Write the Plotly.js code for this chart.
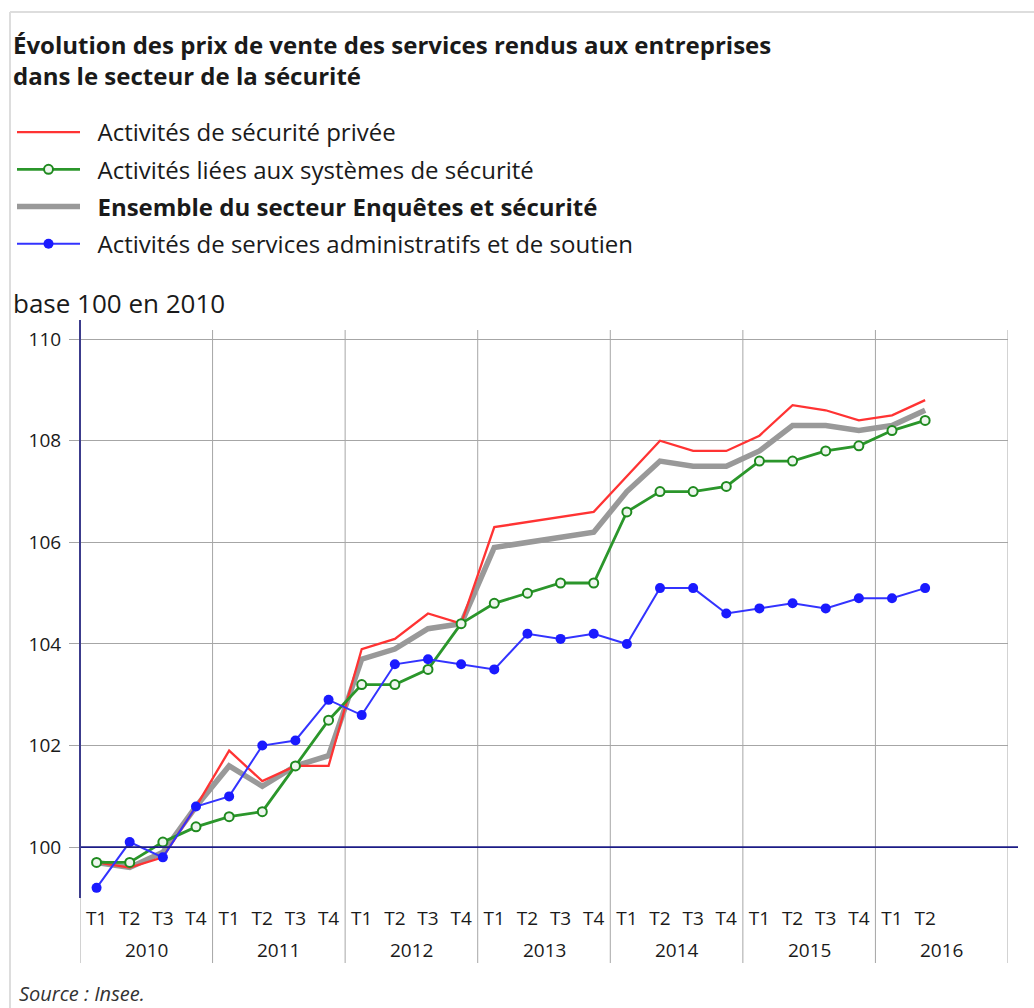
<!DOCTYPE html>
<html>
<head>
<meta charset="utf-8">
<script src="https://cdn.plot.ly/plotly-3.0.1.min.js"></script>
<style>
  html, body { margin: 0; padding: 0; background: #fff; }
  #chart { width: 1034px; height: 1008px; }
</style>
</head>
<body>
<div id="chart"></div>
<script>
// ---- Data ----
const years = ['2010', '2011', '2012', '2013', '2014', '2015', '2016'];
const quarterLabels = ['T1','T2','T3','T4','T1','T2','T3','T4','T1','T2','T3','T4',
  'T1','T2','T3','T4','T1','T2','T3','T4','T1','T2','T3','T4','T1','T2'];

const securitePrivee = [99.7, 99.6, 99.8, 100.8, 101.9, 101.3, 101.6, 101.6, 103.9, 104.1, 104.6, 104.4,
  106.3, 106.4, 106.5, 106.6, 107.3, 108.0, 107.8, 107.8, 108.1, 108.7, 108.6, 108.4, 108.5, 108.8];
const systemesSecurite = [99.7, 99.7, 100.1, 100.4, 100.6, 100.7, 101.6, 102.5, 103.2, 103.2, 103.5, 104.4,
  104.8, 105.0, 105.2, 105.2, 106.6, 107.0, 107.0, 107.1, 107.6, 107.6, 107.8, 107.9, 108.2, 108.4];
const ensembleSecteur = [99.7, 99.6, 99.9, 100.8, 101.6, 101.2, 101.6, 101.8, 103.7, 103.9, 104.3, 104.4,
  105.9, 106.0, 106.1, 106.2, 107.0, 107.6, 107.5, 107.5, 107.8, 108.3, 108.3, 108.2, 108.3, 108.6];
const servicesAdmin = [99.2, 100.1, 99.8, 100.8, 101.0, 102.0, 102.1, 102.9, 102.6, 103.6, 103.7, 103.6,
  103.5, 104.2, 104.1, 104.2, 104.0, 105.1, 105.1, 104.6, 104.7, 104.8, 104.7, 104.9, 104.9, 105.1];

const seriesNames = [
  'Activités de sécurité privée',
  'Activités liées aux systèmes de sécurité',
  '<b>Ensemble du secteur Enquêtes et sécurité</b>',
  'Activités de services administratifs et de soutien'
];
const titleLines = [
  'Évolution des prix de vente des services rendus aux entreprises',
  'dans le secteur de la sécurité'
];
const yTicks = [100, 102, 104, 106, 108, 110];

// ---- Derived positions (quarter index on a linear axis) ----
const xIdx = quarterLabels.map((_, i) => i);
const quartersPerYear = 4;
const nQuartersTotal = years.length * quartersPerYear;

const FONT = '"Open Sans", "Noto Sans", sans-serif';
const TXT = '#1a1a1a';
const PAD = '\u00a0\u00a0';

const traces = [
  {
    x: xIdx, y: ensembleSecteur, name: PAD + seriesNames[2], type: 'scatter', mode: 'lines',
    line: { color: '#999999', width: 5.5 }, legendrank: 3, legendgroup: 'c'
  },
  {
    x: xIdx, y: securitePrivee, name: PAD + seriesNames[0], type: 'scatter', mode: 'lines',
    line: { color: '#ff3333', width: 2.3 }, legendrank: 1, legendgroup: 'a'
  },
  {
    x: xIdx, y: systemesSecurite, name: PAD + seriesNames[1], type: 'scatter', mode: 'lines+markers',
    line: { color: '#2b962b', width: 2.8 },
    marker: { symbol: 'circle', size: 9, color: '#eef6ee', line: { color: '#1f8a1f', width: 2 } },
    legendrank: 2, legendgroup: 'b'
  },
  {
    x: xIdx, y: servicesAdmin, name: PAD + seriesNames[3], type: 'scatter', mode: 'lines+markers',
    line: { color: '#3333ff', width: 2 },
    marker: { symbol: 'circle', size: 10, color: '#1a1aff' },
    legendrank: 4, legendgroup: 'd'
  }
];

// plot area geometry helpers
const L = 80, R = 26, T = 330, B = 110, W = 1034, H = 1008;
const plotH = H - T - B;
const pyToPaper = py => (H - B - py) / plotH;
const pxToPaper = px => (px - L) / (W - L - R);

const shapes = [];
// year separators (extend through tick-label area)
for (let k = 0; k <= years.length; k++) {
  shapes.push({
    type: 'line', xref: 'x', yref: 'paper',
    x0: k * quartersPerYear - 0.5, x1: k * quartersPerYear - 0.5,
    y0: pyToPaper(963), y1: 1,
    line: { color: '#a6a6a6', width: 1 }, layer: 'below'
  });
}
// baseline at 100
shapes.push({
  type: 'line', xref: 'paper', yref: 'y', x0: 0, x1: pxToPaper(1018), y0: 100, y1: 100,
  line: { color: '#1c1c86', width: 1.8 }, layer: 'above'
});
// y axis line (navy)
shapes.push({
  type: 'line', xref: 'paper', yref: 'paper', x0: 0, x1: 0, y0: 0, y1: pyToPaper(320),
  line: { color: '#3c3c8c', width: 2 }
});
// outer frame (top and left light borders)
shapes.push({
  type: 'line', xref: 'paper', yref: 'paper', x0: pxToPaper(10), x1: pxToPaper(1040),
  y0: pyToPaper(12), y1: pyToPaper(12), line: { color: '#dddddd', width: 2 }
});
shapes.push({
  type: 'line', xref: 'paper', yref: 'paper', x0: pxToPaper(10), x1: pxToPaper(10),
  y0: pyToPaper(1012), y1: pyToPaper(12), line: { color: '#dddddd', width: 2 }
});

const annotations = years.map((yr, k) => ({
  xref: 'x', yref: 'paper', x: k * quartersPerYear + 1.5, y: pyToPaper(950),
  text: yr, showarrow: false, xanchor: 'center', yanchor: 'middle',
  font: { family: FONT, size: 19, color: TXT }
}));
annotations.push({
  xref: 'paper', yref: 'paper', x: pxToPaper(11), y: pyToPaper(303),
  text: 'base 100 en 2010', showarrow: false, xanchor: 'left', yanchor: 'middle',
  font: { family: FONT, size: 26, color: TXT }
});
annotations.push({
  xref: 'paper', yref: 'paper', x: pxToPaper(17), y: pyToPaper(993),
  text: '<i>Source : Insee.</i>', showarrow: false, xanchor: 'left', yanchor: 'middle',
  font: { family: FONT, size: 20, color: '#333333' }
});

const layout = {
  width: W, height: H,
  margin: { l: L, r: R, t: T, b: B },
  paper_bgcolor: '#ffffff', plot_bgcolor: '#ffffff',
  font: { family: FONT, color: TXT },
  title: {
    text: '<b>' + titleLines[0] + '<br>' + titleLines[1] + '</b>',
    xref: 'container', yref: 'container', x: 13 / W, xanchor: 'left',
    y: 1 - 54 / H, yanchor: 'middle',
    font: { family: FONT, size: 24, color: TXT }
  },
  showlegend: true,
  legend: {
    orientation: 'v', xref: 'paper', yref: 'paper',
    x: pxToPaper(12), xanchor: 'left', y: pyToPaper(110), yanchor: 'top',
    font: { family: FONT, size: 24, color: TXT },
    bgcolor: 'rgba(0,0,0,0)', itemwidth: 63, tracegroupgap: 3,
    traceorder: 'grouped'
  },
  xaxis: {
    range: [-0.5, nQuartersTotal - 0.5],
    tickmode: 'array', tickvals: xIdx, ticktext: quarterLabels,
    showgrid: false, zeroline: false, showline: false,
    ticks: '', ticklabelstandoff: 7,
    tickfont: { family: FONT, size: 19, color: TXT }
  },
  yaxis: {
    range: [99.0, 110.18],
    tickmode: 'array', tickvals: yTicks,
    showgrid: true, gridcolor: '#a6a6a6', gridwidth: 1,
    zeroline: false, showline: false,
    ticks: 'outside', ticklen: 10, tickcolor: '#a6a6a6', tickwidth: 1,
    ticklabelstandoff: 4,
    tickfont: { family: FONT, size: 19, color: TXT }
  },
  shapes: shapes,
  annotations: annotations
};

Plotly.newPlot('chart', traces, layout, { displayModeBar: false, staticPlot: true });
</script>
</body>
</html>
